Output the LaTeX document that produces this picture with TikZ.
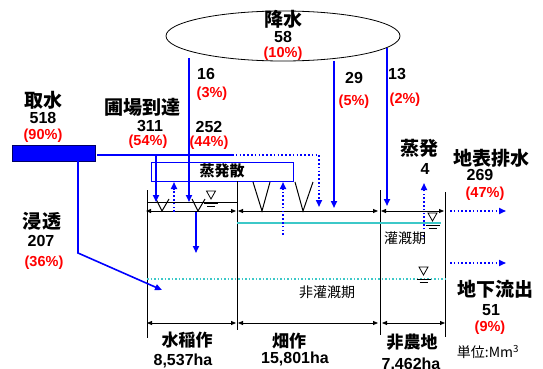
\documentclass[tikz,border=0pt]{standalone}
\usepackage{fontspec}
\setmainfont{Liberation Sans}
\newfontfamily\jp{Noto Sans CJK JP}
\usetikzlibrary{arrows.meta,shapes.geometric}
\definecolor{fblue}{RGB}{0,0,255}
\definecolor{fred}{RGB}{255,0,0}
\definecolor{fcyan}{RGB}{60,200,200}
\definecolor{fnavy}{RGB}{0,0,100}
\tikzset{
 lbl/.style={font=\jp\bfseries\fontsize{19}{19}\selectfont, inner sep=0pt},
 sublbl/.style={font=\jp\bfseries\fontsize{17}{17}\selectfont, inner sep=0pt},
 thin/.style={font=\jp\fontsize{14}{14}\selectfont, inner sep=0pt},
 num/.style={font=\bfseries\fontsize{16}{16}\selectfont, inner sep=0pt},
 pct/.style={font=\bfseries\fontsize{14.5}{14.5}\selectfont, text=fred, inner sep=0pt},
 flow/.style={draw=fblue, line width=1.6pt, -{Triangle[length=7pt,width=6pt]}},
 dflow/.style={flow, dash pattern=on 1.6pt off 2.2pt},
 dimline/.style={draw=black, line width=0.8pt, {Triangle[length=5pt,width=4pt]}-{Triangle[length=5pt,width=4pt]}},
 wall/.style={draw=black, line width=1pt},
 plant/.style={draw=black, line width=1pt},
 wlevel/.pic={
   \draw[line width=0.8pt] (-4.5,0) -- (4.5,0) -- (0,8) -- cycle;
   \draw[line width=0.8pt] (-7,12) -- (7,12);
   \draw[line width=0.8pt] (-4,15) -- (4,15);
 }
}
\begin{document}
\begin{tikzpicture}[x=1pt,y=-1pt]
\useasboundingbox (0,0) rectangle (543,369);

% rainfall ellipse
\node[draw, ellipse, line width=0.8pt, minimum width=234pt, minimum height=50pt, inner sep=0pt] (rain) at (283,36) {};
\node[lbl] (rainL) at (283,19) {降水};
\node[num] (rainN) at (283,36.5) {58};
\node[pct] (rainP) at (283,54) {(10\%)};

% intake box
\node[draw=fnavy, fill=fblue, line width=0.8pt, minimum width=83pt, minimum height=16pt, inner sep=0pt, anchor=north west] (intake) at (12,145) {};
\node[lbl] (intakeL) at (43,100) {取水};
\node[num] (intakeN) at (43,118) {518};
\node[pct] (intakeP) at (43,136) {(90\%)};

% evapotranspiration box
\node[draw=fblue, fill=white, line width=1.2pt, minimum width=142pt, minimum height=19pt, inner sep=0pt, anchor=north west] (et) at (151,162) {};
\node[font=\jp\bfseries\fontsize{15}{15}\selectfont, inner sep=0pt] (etL) at (222,171) {蒸発散};

% walls
\coordinate (w1t) at (147,190); \coordinate (w1b) at (147,338);
\coordinate (w2t) at (237,181); \coordinate (w2b) at (237,330);
\coordinate (w3t) at (380,190); \coordinate (w3b) at (380,335);
\coordinate (w4t) at (445,192); \coordinate (w4b) at (445,337);
\draw[wall] (w1t) -- (w1b);
\draw[wall] (w2t) -- (w2b);
\draw[wall] (w3t) -- (w3b);
\draw[wall] (w4t) -- (w4b);

% paddy water surface
\coordinate (pw1) at (147,202); \coordinate (pw2) at (237,202);
\draw[wall] (pw1) -- (pw2);

% top dimension lines
\coordinate (d1a) at (146,211); \coordinate (d1b) at (236,211);
\coordinate (d2a) at (238,211); \coordinate (d2b) at (378,211);
\coordinate (d3a) at (381,211); \coordinate (d3b) at (444,211);
\draw[dimline] (d1a) -- (d1b);
\draw[dimline] (d2a) -- (d2b);
\draw[dimline] (d3a) -- (d3b);

% bottom dimension lines
\coordinate (e1a) at (147,323); \coordinate (e1b) at (236,323);
\coordinate (e2a) at (238,323); \coordinate (e2b) at (378,323);
\coordinate (e3a) at (382,323); \coordinate (e3b) at (445,323);
\draw[dimline] (e1a) -- (e1b);
\draw[dimline] (e2a) -- (e2b);
\draw[dimline] (e3a) -- (e3b);

% plants
\draw[plant] (156,199) -- (162,211) -- (169,199);
\draw[plant] (192,199) -- (198,211) -- (205,199);
\draw[plant] (253,182) -- (262,211) -- (270,182);
\draw[plant] (295,182) -- (303,211) -- (313,182);

% groundwater lines
\draw[fcyan, line width=2pt] (237,223) -- (441,223);
\draw[fcyan, line width=1.5pt, dash pattern=on 1.5pt off 2pt] (147,279) -- (445,279);

% water level marks
\pic at (211,191) {wlevel};
\pic at (432.5,213) {wlevel};
\pic at (423.5,267) {wlevel};

% flows
\coordinate (r1s) at (189,58);  \coordinate (r1e) at (189,202);
\coordinate (r2s) at (334,61);  \coordinate (r2e) at (334,208);
\coordinate (r3s) at (387,48);  \coordinate (r3e) at (387,206);
\draw[flow] (r1s) -- (r1e);
\draw[flow] (r2s) -- (r2e);
\draw[flow] (r3s) -- (r3e);

\coordinate (i0) at (97,155); \coordinate (i1) at (156,155); \coordinate (i2) at (232,155);
\coordinate (i3) at (319,155); \coordinate (i4) at (319,207);
\draw[fblue, line width=1.6pt] (i0) -- (i2);
\draw[dflow] (i2) -- (i3) -- (i4);
\coordinate (i1e) at (156,202);
\draw[flow] (i1) -- (i1e);

\coordinate (s0) at (78,161); \coordinate (s1) at (78,253); \coordinate (s2) at (162,290);
\draw[flow] (s0) -- (s1) -- (s2);

\coordinate (p0) at (196,212); \coordinate (p1) at (196,253);
\draw[flow] (p0) -- (p1);

\coordinate (u1a) at (174,212); \coordinate (u1b) at (174,182);
\coordinate (u2a) at (283,235); \coordinate (u2b) at (283,182);
\coordinate (u3a) at (424,237); \coordinate (u3b) at (424,183);
\draw[dflow] (u1a) -- (u1b);
\draw[dflow] (u2a) -- (u2b);
\draw[dflow] (u3a) -- (u3b);

\coordinate (o1a) at (450,211); \coordinate (o1b) at (506,211);
\coordinate (o2a) at (450,263); \coordinate (o2b) at (506,263);
\draw[dflow] (o1a) -- (o1b);
\draw[dflow] (o2a) -- (o2b);

% labels
\node[num] (n16) at (206,74) {16};
\node[pct] (p3) at (212,94) {(3\%)};
\node[num] (n29) at (354,78) {29};
\node[pct] (p5) at (354,102) {(5\%)};
\node[num] (n13) at (397,74) {13};
\node[pct] (p2) at (405,100) {(2\%)};

\node[lbl] (fieldL) at (142,107) {圃場到達};
\node[num] (fieldN) at (150,126) {311};
\node[pct] (fieldP) at (148,142) {(54\%)};
\node[num] (n252) at (209,127) {252};
\node[pct] (p44) at (209,143) {(44\%)};

\node[lbl] (percL) at (42,221) {浸透};
\node[num] (percN) at (41,241) {207};
\node[pct] (percP) at (44,263) {(36\%)};

\node[lbl] (evL) at (419,148) {蒸発};
\node[num] (evN) at (425,169) {4};

\node[lbl] (surfL) at (491,158) {地表排水};
\node[num] (surfN) at (480,175) {269};
\node[pct] (surfP) at (485,194) {(47\%)};

\node[lbl] (gwL) at (495,289) {地下流出};
\node[num] (gwN) at (491,310) {51};
\node[pct] (gwP) at (490,328) {(9\%)};
\node[font=\jp\fontsize{14}{14}\selectfont, inner sep=0pt] (unit) at (488,352) {単位:Mm\textsuperscript{3}};

\node[thin] (irrL) at (405,238) {灌漑期};
\node[thin] (nirrL) at (327,292) {非灌漑期};

\node[sublbl] (riceL) at (187,340) {水稲作};
\node[num] (riceN) at (183,361) {8,537ha};
\node[sublbl] (upL) at (289,341) {畑作};
\node[num] (upN) at (295,359) {15,801ha};
\node[sublbl] (nonL) at (412,342) {非農地};
\node[num] (nonN) at (411,365) {7,462ha};
\end{tikzpicture}
\end{document}
